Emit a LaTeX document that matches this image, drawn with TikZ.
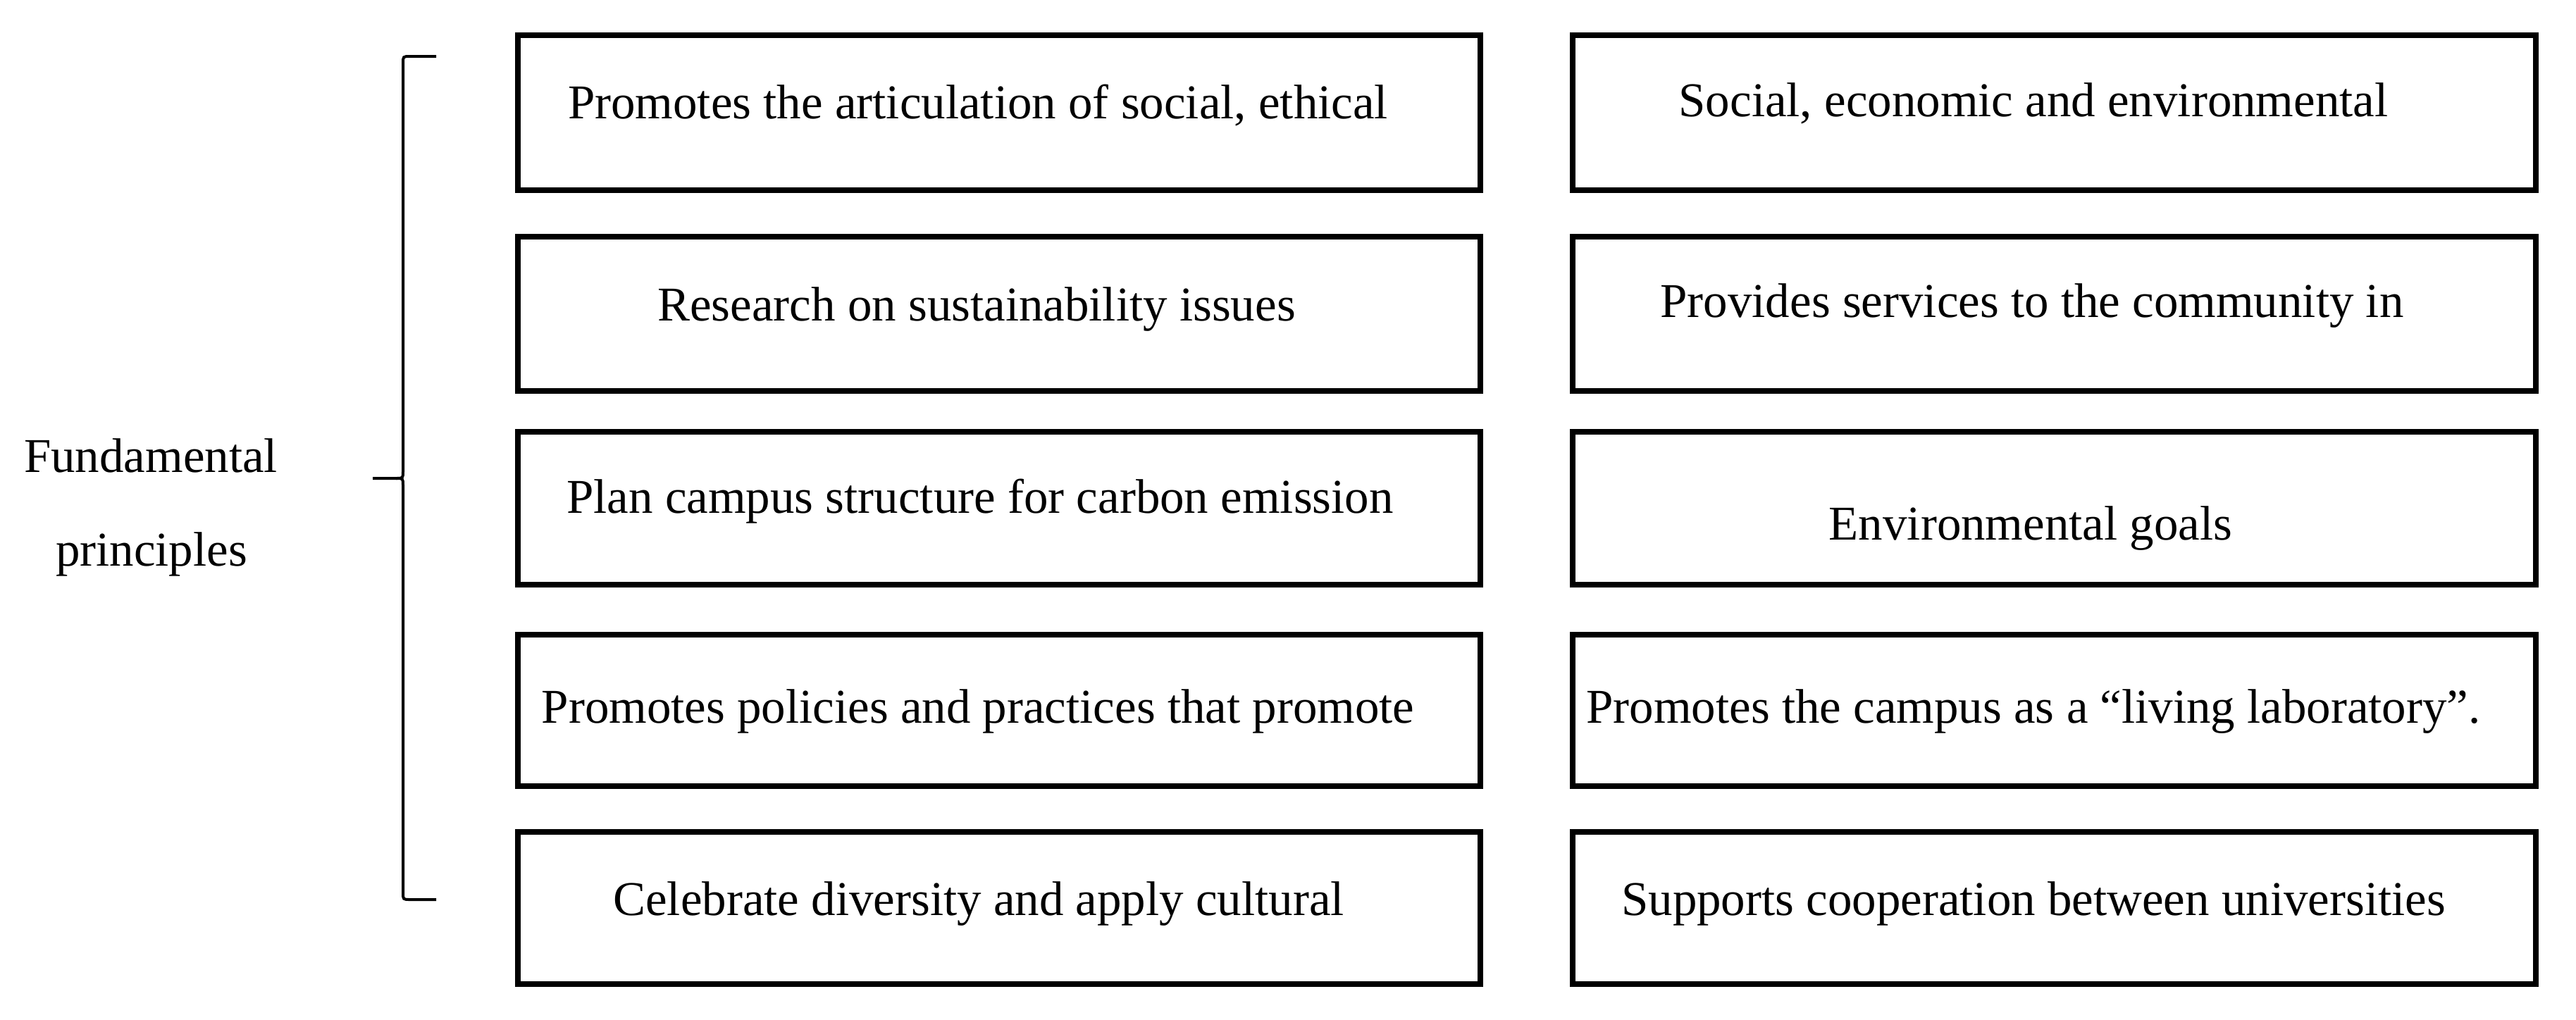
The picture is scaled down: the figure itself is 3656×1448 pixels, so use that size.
\documentclass[tikz,border=0pt]{standalone}
\usepackage{fontspec}
\setmainfont{Liberation Serif}
\begin{document}
\begin{tikzpicture}[x=0.01cm,y=-0.01cm,
  box/.style={draw=black, line width=0.08cm, rectangle, inner sep=0pt, minimum width=13.66cm},
  txt/.style={font=\fontsize{19.6pt}{23pt}\selectfont, anchor=base, inner sep=0pt},
  brk/.style={draw=black, line width=0.04cm}]
\useasboundingbox (0,0) rectangle (3656,1448);
% left column boxes
\node[box, minimum height=2.20cm] (L1) at (1418,160) {};
\node[box, minimum height=2.19cm] (L2) at (1418,445.5) {};
\node[box, minimum height=2.17cm] (L3) at (1418,721.5) {};
\node[box, minimum height=2.15cm] (L4) at (1418,1008.5) {};
\node[box, minimum height=2.16cm] (L5) at (1418,1289) {};
% right column boxes
\node[box, minimum height=2.20cm] (R1) at (2915.5,160) {};
\node[box, minimum height=2.19cm] (R2) at (2915.5,445.5) {};
\node[box, minimum height=2.17cm] (R3) at (2915.5,721.5) {};
\node[box, minimum height=2.15cm] (R4) at (2915.5,1008.5) {};
\node[box, minimum height=2.16cm] (R5) at (2915.5,1289) {};
% texts
\node[txt] (tL1) at (1388,168) {Promotes the articulation of social, ethical};
\node[txt] (tL2) at (1386,455) {Research on sustainability issues};
\node[txt] (tL3) at (1391,728) {Plan campus structure for carbon emission};
\node[txt] (tL4) at (1388,1026) {Promotes policies and practices that promote};
\node[txt] (tL5) at (1389,1299) {Celebrate diversity and apply cultural};
\node[txt] (tR1) at (2886,165) {Social, economic and environmental};
\node[txt] (tR2) at (2884,450) {Provides services to the community in};
\node[txt] (tR3) at (2882,766) {Environmental goals};
\node[txt] (tR4) at (2886,1026) {Promotes the campus as a “living laboratory”.};
\node[txt] (tR5) at (2886,1299) {Supports cooperation between universities};
% left label
\node[txt] (fund1) at (214,670) {Fundamental};
\node[txt] (fund2) at (215,803) {principles};
% bracket
\coordinate (btop) at (619,80);
\coordinate (bmid) at (529,679);
\coordinate (bbot) at (619,1277);
\draw[brk] (btop) -- (582,80) .. controls (572,80) .. (572,90) -- (572,669)
  .. controls (572,679) .. (562,679) -- (bmid);
\draw[brk] (562,679) .. controls (572,679) .. (572,689) -- (572,1267)
  .. controls (572,1277) .. (582,1277) -- (bbot);
\end{tikzpicture}
\end{document}
